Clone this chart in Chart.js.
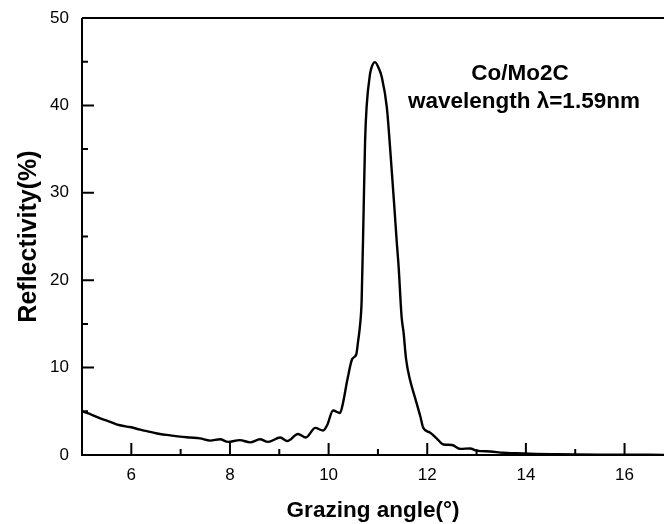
<!DOCTYPE html>
<html>
<head>
<meta charset="utf-8">
<script src="https://cdn.jsdelivr.net/npm/chart.js@4/dist/chart.umd.min.js"></script>
<style>
  html, body { margin: 0; padding: 0; background: #fff; }
  #wrap { width: 664px; height: 524px; position: relative; }
</style>
</head>
<body>
<div id="wrap"><canvas id="c" width="664" height="524"></canvas></div>
<script>
// Grazing angle (degrees)
const angle = [5.0, 5.2, 5.37, 5.57, 5.77, 5.97, 6.18, 6.38, 6.58, 6.79, 6.99, 7.19, 7.39, 7.6, 7.8, 7.96, 8.2, 8.41, 8.61, 8.77,
  9.02, 9.16, 9.38, 9.54, 9.73, 9.89, 9.97, 10.09, 10.23, 10.29, 10.38, 10.48, 10.56, 10.6, 10.64, 10.67, 10.71, 10.74, 10.77, 10.84,
  10.88, 10.94, 11.02, 11.08, 11.18, 11.26, 11.33, 11.38, 11.42, 11.48, 11.52, 11.57, 11.65, 11.75, 11.86, 11.92, 12.06, 12.19, 12.33, 12.5,
  12.67, 12.87, 13.0, 13.28, 13.54, 13.8, 14.2, 14.6, 15.0, 15.6, 16.2, 16.8];
// Reflectivity (%)
const reflectivity = [5.0, 4.6, 4.2, 3.8, 3.4, 3.2, 2.9, 2.65, 2.4, 2.25, 2.1, 2.0, 1.9, 1.65, 1.8, 1.5, 1.7, 1.45, 1.8, 1.5,
  2.0, 1.6, 2.4, 2.0, 3.1, 2.8, 3.4, 5.1, 4.8, 5.9, 8.6, 11.0, 11.5, 13.1, 15.0, 17.7, 28.0, 36.0, 39.8, 43.6,
  44.5, 44.95, 44.2, 43.2, 39.8, 34.1, 28.6, 24.5, 21.5, 15.8, 14.0, 11.0, 8.6, 6.6, 4.4, 3.1, 2.55, 1.9, 1.2, 1.15,
  0.7, 0.75, 0.5, 0.4, 0.25, 0.2, 0.12, 0.08, 0.05, 0.04, 0.03, 0.02];

const xMajorTicks = [6, 8, 10, 12, 14, 16];
const xMinorTicks = [7, 9, 11, 13, 15];
const yMajorTicks = [0, 10, 20, 30, 40, 50];
const yMinorTicks = [5, 15, 25, 35, 45];
const xTitle = 'Grazing angle(°)';
const yTitle = 'Reflectivity(%)';
const noteLines = ['Co/Mo2C', 'wavelength λ=1.59nm'];

const points = angle.map((a, i) => ({ x: a, y: reflectivity[i] }));
const FONT = '"Liberation Sans", Arial, sans-serif';

const framePlugin = {
  id: 'frame',
  afterDraw(chart) {
    const { ctx, chartArea: ca, scales } = chart;
    const xs = scales.x, ys = scales.y;
    ctx.save();
    ctx.strokeStyle = '#000';
    ctx.lineWidth = 2;
    ctx.beginPath();
    ctx.moveTo(ca.left, ca.top); ctx.lineTo(ca.right + 2, ca.top);
    ctx.moveTo(ca.left, ca.top); ctx.lineTo(ca.left, ca.bottom);
    ctx.moveTo(ca.left - 1, ca.bottom); ctx.lineTo(ca.right + 2, ca.bottom);
    ctx.stroke();
    ctx.beginPath();
    xMajorTicks.forEach(v => { const p = xs.getPixelForValue(v); ctx.moveTo(p, ca.bottom); ctx.lineTo(p, ca.bottom - 12); });
    xMinorTicks.forEach(v => { const p = xs.getPixelForValue(v); ctx.moveTo(p, ca.bottom); ctx.lineTo(p, ca.bottom - 6); });
    yMajorTicks.forEach(v => { const p = ys.getPixelForValue(v); ctx.moveTo(ca.left, p); ctx.lineTo(ca.left + 12, p); });
    yMinorTicks.forEach(v => { const p = ys.getPixelForValue(v); ctx.moveTo(ca.left, p); ctx.lineTo(ca.left + 6, p); });
    ctx.stroke();
    ctx.fillStyle = '#000';
    ctx.font = 'bold 22.5px ' + FONT;
    ctx.textAlign = 'center';
    ctx.textBaseline = 'middle';
    ctx.fillText(noteLines[0], xs.getPixelForValue(13.88), ys.getPixelForValue(43.6));
    ctx.fillText(noteLines[1], xs.getPixelForValue(13.96), ys.getPixelForValue(40.4));
    ctx.restore();
  }
};

new Chart(document.getElementById('c'), {
  type: 'line',
  data: {
    datasets: [{
      data: points,
      borderColor: '#000',
      borderWidth: 2.4,
      pointRadius: 0,
      fill: false,
      cubicInterpolationMode: 'monotone'
    }]
  },
  options: {
    responsive: false,
    animation: false,
    events: [],
    layout: { padding: { top: 18, right: 0, left: 0, bottom: 0 } },
    plugins: { legend: { display: false }, tooltip: { enabled: false } },
    scales: {
      x: {
        type: 'linear',
        min: 5,
        max: 16.8,
        afterBuildTicks: s => { s.ticks = xMajorTicks.map(v => ({ value: v })); },
        afterFit: s => { s.height = 69; s.paddingLeft = 0; s.paddingRight = 0; },
        grid: { display: false, drawTicks: false },
        border: { display: false },
        ticks: { color: '#000', padding: 10, maxRotation: 0, autoSkip: false,
          font: { family: FONT, size: 17 } },
        title: { display: true, text: xTitle, color: '#000', padding: { top: 8, bottom: 0 },
          font: { family: FONT, size: 22.5, weight: 'bold' } }
      },
      y: {
        type: 'linear',
        min: 0,
        max: 50,
        afterBuildTicks: s => { s.ticks = yMajorTicks.map(v => ({ value: v })); },
        afterFit: s => { s.width = 82; s.paddingTop = 0; s.paddingBottom = 0; },
        grid: { display: false, drawTicks: false },
        border: { display: false },
        ticks: { color: '#000', padding: 13,
          font: { family: FONT, size: 17 } },
        title: { display: true, text: yTitle, color: '#000', padding: { top: 14, bottom: 0 },
          font: { family: FONT, size: 25, weight: 'bold' } }
      }
    }
  },
  plugins: [framePlugin]
});
</script>
</body>
</html>
